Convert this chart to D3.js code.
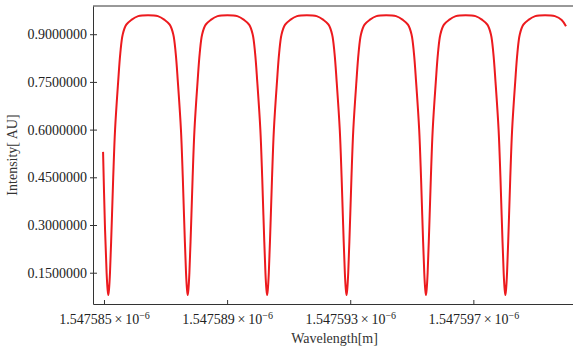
<!DOCTYPE html>
<html>
<head>
<meta charset="utf-8">
<script src="https://cdn.jsdelivr.net/npm/d3@7"></script>
<style>
  body { margin: 0; background: #fff; }
  svg { display: block; }
  .axis path, .axis line { stroke: #333; }
  .axis text { font-family: "Liberation Serif", "DejaVu Serif", serif; fill: #222; }
</style>
</head>
<body>
<svg id="chart"></svg>
<script>
// wavelength in units of 10^-6 m
const wavelength = [
  1.54758497, 1.54758503, 1.547585085, 1.547585115, 1.54758514,
  1.547585165, 1.547585195, 1.54758525, 1.5475853, 1.54758536, 1.54758546, 1.54758553, 1.54758561, 1.547585725, 1.54758589, 1.54758611,
  1.54758643,
  1.54758675, 1.54758697, 1.547587135, 1.54758725, 1.54758733, 1.5475874, 1.5475875, 1.54758756, 1.54758761, 1.547587665, 1.547587695, 1.54758772,
  1.547587745, 1.547587775, 1.54758783, 1.54758788, 1.54758794, 1.54758804, 1.54758811, 1.54758819, 1.547588305, 1.54758847, 1.54758869,
  1.54758901,
  1.54758933, 1.54758955, 1.547589715, 1.54758983, 1.54758991, 1.54758998, 1.54759008, 1.54759014, 1.54759019, 1.547590245, 1.547590275, 1.5475903,
  1.547590325, 1.547590355, 1.54759041, 1.54759046, 1.54759052, 1.54759062, 1.54759069, 1.54759077, 1.547590885, 1.54759105, 1.54759127,
  1.54759159,
  1.54759191, 1.54759213, 1.547592295, 1.54759241, 1.54759249, 1.54759256, 1.54759266, 1.54759272, 1.54759277, 1.547592825, 1.547592855, 1.54759288,
  1.547592905, 1.547592935, 1.54759299, 1.54759304, 1.5475931, 1.5475932, 1.54759327, 1.54759335, 1.547593465, 1.54759363, 1.54759385,
  1.54759417,
  1.54759449, 1.54759471, 1.547594875, 1.54759499, 1.54759507, 1.54759514, 1.54759524, 1.5475953, 1.54759535, 1.547595405, 1.547595435, 1.54759546,
  1.547595485, 1.547595515, 1.54759557, 1.54759562, 1.54759568, 1.54759578, 1.54759585, 1.54759593, 1.547596045, 1.54759621, 1.54759643,
  1.54759675,
  1.54759707, 1.54759729, 1.547597455, 1.54759757, 1.54759765, 1.54759772, 1.54759782, 1.54759788, 1.54759793, 1.547597985, 1.547598015, 1.54759804,
  1.547598065, 1.547598095, 1.54759815, 1.5475982, 1.54759826, 1.54759836, 1.54759843, 1.54759851, 1.547598625, 1.54759879, 1.54759901,
  1.54759933,
  1.54759965, 1.54759987, 1.54760001
];
const intensity = [
  0.53, 0.30, 0.15, 0.10, 0.08,
  0.10, 0.15, 0.30, 0.45, 0.60, 0.75, 0.84, 0.90, 0.93, 0.945, 0.957,
  0.96,
  0.957, 0.945, 0.93, 0.90, 0.84, 0.75, 0.60, 0.45, 0.30, 0.15, 0.10, 0.08,
  0.10, 0.15, 0.30, 0.45, 0.60, 0.75, 0.84, 0.90, 0.93, 0.945, 0.957,
  0.96,
  0.957, 0.945, 0.93, 0.90, 0.84, 0.75, 0.60, 0.45, 0.30, 0.15, 0.10, 0.08,
  0.10, 0.15, 0.30, 0.45, 0.60, 0.75, 0.84, 0.90, 0.93, 0.945, 0.957,
  0.96,
  0.957, 0.945, 0.93, 0.90, 0.84, 0.75, 0.60, 0.45, 0.30, 0.15, 0.10, 0.08,
  0.10, 0.15, 0.30, 0.45, 0.60, 0.75, 0.84, 0.90, 0.93, 0.945, 0.957,
  0.96,
  0.957, 0.945, 0.93, 0.90, 0.84, 0.75, 0.60, 0.45, 0.30, 0.15, 0.10, 0.08,
  0.10, 0.15, 0.30, 0.45, 0.60, 0.75, 0.84, 0.90, 0.93, 0.945, 0.957,
  0.96,
  0.957, 0.945, 0.93, 0.90, 0.84, 0.75, 0.60, 0.45, 0.30, 0.15, 0.10, 0.08,
  0.10, 0.15, 0.30, 0.45, 0.60, 0.75, 0.84, 0.90, 0.93, 0.945, 0.957,
  0.96,
  0.957, 0.945, 0.925
];
const xTicks = [1.547585, 1.547589, 1.547593, 1.547597];
const yTicks = [0.15, 0.3, 0.45, 0.6, 0.75, 0.9];

const W = 573, H = 351;
const margin = {top: 6, right: -3, bottom: 47, left: 93};
const width = W - margin.left - margin.right,
      height = H - margin.top - margin.bottom;

const svg = d3.select("#chart").attr("width", W).attr("height", H);
const chart = svg.append("g")
    .attr("transform", "translate(" + margin.left + "," + margin.top + ")");

const x = d3.scaleLinear().domain([1.547584643, 1.547600335]).range([0, width]);
const y = d3.scaleLinear().domain([0.0516, 0.9887]).range([height, 0]);

const pts = wavelength.map((w, i) => [w, intensity[i]]);

// frame top line
chart.append("line")
    .attr("x1", 0).attr("x2", width).attr("y1", 0).attr("y2", 0)
    .attr("stroke", "#333").attr("stroke-width", 1);

// x axis
const gx = chart.append("g").attr("class", "axis")
    .attr("transform", "translate(0," + height + ")")
    .call(d3.axisBottom(x).tickValues(xTicks).tickSizeInner(-4).tickSizeOuter(0).tickPadding(7).tickFormat(""));
gx.selectAll(".tick text").each(function(d) {
  const t = d3.select(this).style("font-size", "14px").attr("dy", "0.9em");
  t.append("tspan").text(d3.format(".6f")(d) + "\u2009\u00d7\u200910");
  t.append("tspan").attr("dy", "-0.45em").style("font-size", "10px").text("\u22126");
});

// y axis
const gy = chart.append("g").attr("class", "axis")
    .call(d3.axisLeft(y).tickValues(yTicks).tickSizeOuter(0).tickSizeInner(3).tickPadding(3).tickFormat(d3.format(".7f")));
gy.selectAll(".tick line").attr("x1", -3).attr("x2", 4);
gy.selectAll(".tick text").style("font-size", "14px");

// curve
chart.append("path")
    .datum(pts)
    .attr("fill", "none")
    .attr("stroke", "#ec1a1e")
    .attr("stroke-width", 2)
    .attr("stroke-linejoin", "round")
    .attr("d", d3.line().x(d => x(d[0])).y(d => y(d[1])).curve(d3.curveCatmullRom.alpha(0.5)));

// axis labels
svg.append("text")
    .attr("x", margin.left + width / 2)
    .attr("y", 343)
    .attr("text-anchor", "middle")
    .style("font-family", "Liberation Serif, serif")
    .style("font-size", "14px")
    .style("fill", "#333")
    .text("Wavelength[m]");
svg.append("text")
    .attr("transform", "translate(17," + (margin.top + height / 2) + ") rotate(-90)")
    .attr("text-anchor", "middle")
    .style("font-family", "Liberation Serif, serif")
    .style("font-size", "14px")
    .style("fill", "#333")
    .text("Intensity[ AU]");
</script>
</body>
</html>
